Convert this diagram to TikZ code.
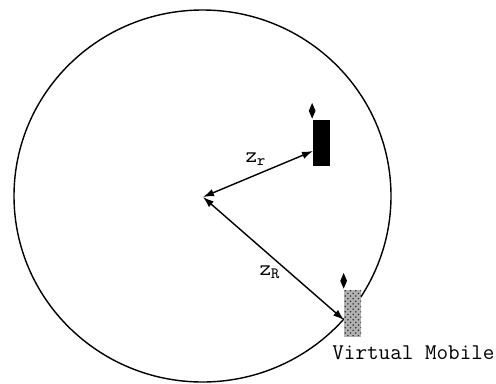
\documentclass[tikz,border=0pt]{standalone}
\usetikzlibrary{arrows.meta,patterns,shapes.geometric}
\tikzset{
	mobile/.style={draw=none, minimum width=17*0.569pt, minimum height=47*0.569pt, inner sep=0pt},
	flame/.style={diamond, fill=black, minimum width=7*0.569pt, minimum height=16*0.569pt, inner sep=0pt, aspect=0.4},
	radius/.style={<->, thick},
	label/.style={font=\ttfamily\fontsize{12.8}{14}\selectfont, inner sep=0pt}
}

\begin{document}
\begin{tikzpicture}[x=0.02cm, y=0.02cm, >={Latex[length=2.2mm, width=1.5mm]}]
	\useasboundingbox (0,0) rectangle (496,383);
	\coordinate (origin) at (203,186);
	\draw[thick] (202.5,187) ellipse (188.5 and 186);
	% mobiles
	\node[mobile, fill=black] (real) at (321,240) {};
	\node[mobile, preaction={fill=black!30}, pattern=crosshatch dots, pattern color=black!80] (virtual) at (352.5,70) {};
	\node[flame, above=0pt] (realflame) at (real.north west) {};
	\node[flame, above=0pt] (virtualflame) at (virtual.north west) {};
	\coordinate (realend) at (313,232);
	\coordinate (virtualend) at (344,63);
	% radii
	\draw[radius] (origin) -- (realend);
	\draw[radius] (origin) -- (virtualend);
	\node[label] (zr) at (256,224) {z\textsubscript{r}};
	\node[label] (zR) at (270,111) {z\textsubscript{R}};
	\node[label, anchor=west] (name) at (332,30) {Virtual Mobile};
\end{tikzpicture}
\end{document}
